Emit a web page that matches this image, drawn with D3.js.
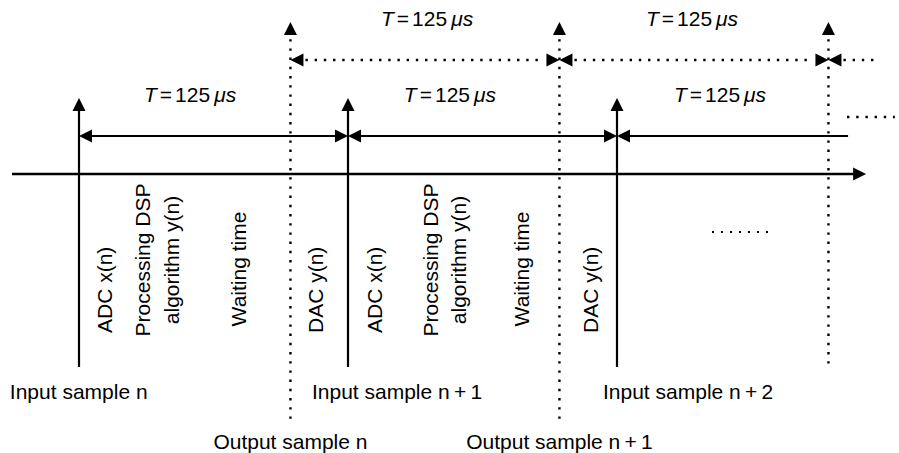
<!DOCTYPE html>
<html>
<head>
<meta charset="utf-8">
<script src="https://cdn.jsdelivr.net/npm/d3@7"></script>
<style>
  html, body { margin: 0; padding: 0; background: #fff; }
  svg { display: block; }
  text { font-family: "Liberation Sans", Arial, Helvetica, sans-serif; fill: #000; }
</style>
</head>
<body>
<script>
// ---------- data (time in sample periods, T = 125 µs) ----------
const inputTimes   = [0, 1, 2];
const inputLabels  = ["Input sample n", "Input sample n\u2009+\u20091", "Input sample n\u2009+\u20092"];
const inputLabelStart = [-0.257, 0.866, 1.948];
const outputTimes  = [0.786, 1.786, 2.786];
const outputLabels = ["Output sample n", "Output sample n\u2009+\u20091", ""];
const periodLabel  = ["T", "=", "125", "\u03bcs"];
const solidLabelAt = [0.413, 1.379, 2.383];
const dottedLabelAt = [1.294, 2.279];
const solidSegments  = [[0, 1, true], [1, 2, true], [2, 2.859, false]];
const dottedSegments = [[0.786, 1.786, true], [1.786, 2.786, true], [2.786, 2.978, false]];
const axisRange = [-0.249, 2.926];
const phaseNames = ["ADC x(n)", "Processing DSP", "algorithm y(n)", "Waiting time", "DAC y(n)"];
const phaseTimes = [
  [0.097, 0.238, 0.346, 0.595, 0.881],
  [1.100, 1.309, 1.413, 1.647, 1.903]
];
const moreSolid = [2.855, 3.033];
const moreMid = [2.353, 2.576];

// ---------- layout ----------
const W = 899, H = 453;
const FS = 21;
const x = d3.scaleLinear().domain([0, 1]).range([79, 348]);
const yDotRow = 60, ySolidRow = 136, yAxis = 174, yMoreSolid = 117, yMoreMid = 232;
const ySolidTip = 98, yDotTip = 22, ySolidBottom = 367, yDotBottom = 425, yDotShort = 367;
const AL = 13, AW = 6.5;
const DASH = "2.4,6.8";

const svg = d3.select("body").append("svg").attr("width", W).attr("height", H);

function head(x0, y0, dir) {
  let pts;
  if (dir === "up") pts = [[x0, y0], [x0 - AW, y0 + AL], [x0 + AW, y0 + AL]];
  else if (dir === "left") pts = [[x0, y0], [x0 + AL, y0 - AW], [x0 + AL, y0 + AW]];
  else pts = [[x0, y0], [x0 - AL, y0 - AW], [x0 - AL, y0 + AW]];
  svg.append("path").attr("d", d3.line()(pts) + "Z").attr("fill", "#000");
}
function line(x1, y1, x2, y2, dotted, w) {
  const l = svg.append("line").attr("x1", x1).attr("y1", y1).attr("x2", x2).attr("y2", y2)
    .attr("stroke", "#000").attr("stroke-width", w || (dotted ? 2.4 : 2.2));
  if (dotted) l.attr("stroke-dasharray", DASH);
  return l;
}

// time axis
line(x(axisRange[0]), yAxis, x(axisRange[1]) - 6, yAxis, false, 2.4);
head(x(axisRange[1]), yAxis, "right");

// input sample (solid) verticals
inputTimes.forEach(t => {
  line(x(t), ySolidTip + 6, x(t), ySolidBottom, false);
  head(x(t), ySolidTip, "up");
});
// output sample (dotted) verticals
outputTimes.forEach((t, i) => {
  line(x(t), yDotTip + 8, x(t), outputLabels[i] ? yDotBottom : yDotShort, true);
  head(x(t), yDotTip, "up");
});

// solid period arrows
solidSegments.forEach(([a, b, closed]) => {
  line(x(a) + 4, ySolidRow, closed ? x(b) - 4 : x(b), ySolidRow, false);
  head(x(a), ySolidRow, "left");
  if (closed) head(x(b), ySolidRow, "right");
});
// dotted period arrows
dottedSegments.forEach(([a, b, closed]) => {
  line(x(a) + AL + 2, yDotRow, closed ? x(b) - AL - 2 : x(b), yDotRow, true);
  head(x(a), yDotRow, "left");
  if (closed) head(x(b), yDotRow, "right");
});
// continuation dots
line(x(moreSolid[0]), yMoreSolid, x(moreSolid[1]), yMoreSolid, true);
line(x(moreMid[0]), yMoreMid, x(moreMid[1]), yMoreMid, true, 1.8).attr("stroke-dasharray", "2,7");

// T = 125 µs labels
function periodText(cx, y) {
  const t = svg.append("text").attr("x", cx).attr("y", y).attr("text-anchor", "middle").attr("font-size", FS);
  t.append("tspan").attr("font-style", "italic").text(periodLabel[0]);
  t.append("tspan").attr("dx", 3).text(periodLabel[1]);
  t.append("tspan").attr("dx", 3).text(periodLabel[2]);
  t.append("tspan").attr("dx", 4).attr("font-style", "italic").text(periodLabel[3]);
}
solidLabelAt.forEach(t => periodText(x(t), 102));
dottedLabelAt.forEach(t => periodText(x(t), 26));

// rotated phase labels
phaseTimes.forEach(group => {
  group.forEach((t, j) => {
    const name = phaseNames[j];
    let anchor = "start", yy = 333;
    if (j === 1 || j === 2) { anchor = "middle"; yy = 260; }
    if (j === 3) { anchor = "middle"; yy = 269; }
    svg.append("text")
      .attr("transform", `translate(${x(t)},${yy}) rotate(-90)`)
      .attr("text-anchor", anchor).attr("dy", "0.35em")
      .attr("font-size", FS).text(name);
  });
});

// bottom labels
inputLabels.forEach((s, i) => {
  svg.append("text").attr("x", x(inputLabelStart[i])).attr("y", 399)
    .attr("font-size", FS).text(s);
});
outputTimes.forEach((t, i) => {
  if (!outputLabels[i]) return;
  svg.append("text").attr("x", x(t)).attr("y", 449).attr("text-anchor", "middle")
    .attr("font-size", FS).text(outputLabels[i]);
});
</script>
</body>
</html>
